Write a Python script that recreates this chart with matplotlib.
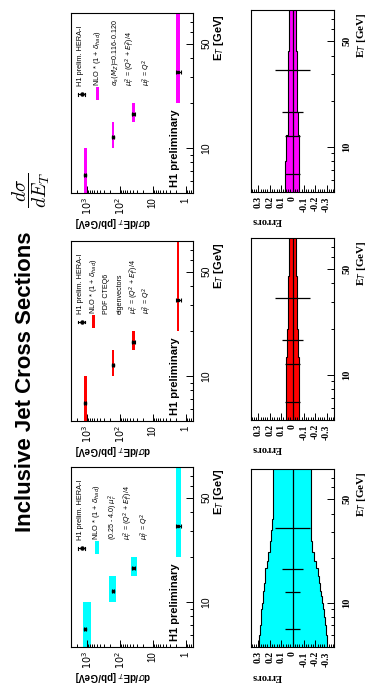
import numpy as np
import matplotlib
matplotlib.use("Agg")
import matplotlib.pyplot as plt
from matplotlib.lines import Line2D
from matplotlib.patches import Rectangle
from matplotlib.ticker import FixedLocator, NullFormatter

plt.rcParams['font.family'] = ['Liberation Sans', 'DejaVu Sans']

# measured points (same data in all three columns)
et_lo = [5, 10, 15, 20]
et_hi = [10, 15, 20, 80]
et_pt = [6.6, 11.8, 16.8, 32.0]
xsec = [1130, 163, 39, 1.68]
rel_err = [0.064, 0.067, 0.09, 0.155]

# NLO bands in the cross section panels: cyan = scale, red = pdf, magenta = alpha_s
nlo_lo = {'scale': [760, 130, 30, 1.39],
          'pdf': [961, 149, 35.3, 1.57],
          'as': [961, 150, 35, 1.49]}
nlo_hi = {'scale': [1320, 211, 45.6, 2.01],
          'pdf': [1186, 172, 41.7, 1.88],
          'as': [1186, 172, 42, 1.97]}

# theory uncertainties shown in the "Errors" panels
scale_edges = [5, 5.5, 6, 6.5, 7, 8, 9, 10, 11, 12, 13.5, 15, 17, 19, 22, 26, 31, 37, 45, 80]
scale_up = [0.298, 0.294, 0.29, 0.286, 0.28, 0.274, 0.268, 0.263, 0.259, 0.253,
            0.246, 0.238, 0.228, 0.215, 0.2, 0.19, 0.18, 0.174, 0.171]
scale_dn = [-0.304, -0.3, -0.296, -0.291, -0.285, -0.278, -0.27, -0.262, -0.255, -0.246,
            -0.236, -0.224, -0.21, -0.193, -0.175, -0.165, -0.16, -0.159, -0.159]
pdf_edges = [5, 13, 20, 45, 80]
pdf_up = [0.055, 0.048, 0.038, 0.029]
pdf_dn = [-0.055, -0.048, -0.043, -0.035]
as_edges = [5, 8, 12, 17, 43, 80]
as_up = [0.064, 0.055, 0.043, 0.038, 0.032]
as_dn = [-0.061, -0.055, -0.046, -0.043, -0.035]

legend_common = ['H1 prelim. HERA-I', r'NLO * (1 + $\delta_{had}$)']
legend_scale = [r'(0.25 - 4.0) $\mu_r^2$', r'$\mu_r^2$ = ($Q^2$ + $E_T^2$)/4', r'$\mu_f^2$ = $Q^2$']
legend_pdf = ['PDF CTEQ6', 'eigenvectors', r'$\mu_r^2$ = ($Q^2$ + $E_T^2$)/4', r'$\mu_f^2$ = $Q^2$']
legend_as = [r'$\alpha_s(M_Z)$=0.116-0.120', r'$\mu_r^2$ = ($Q^2$ + $E_T^2$)/4', r'$\mu_f^2$ = $Q^2$']

W, H = 374, 692
fig = plt.figure(figsize=(W / 100, H / 100), dpi=100)


def fx(x):
    return x / W


def fy(y):
    return 1 - y / H


def make_axes(x0, y0, x1, y1):
    return fig.add_axes([x0 / W, 1 - y1 / H, (x1 - x0) / W, (y1 - y0) / H])


def et_axis(ax):
    ax.set_yscale('log')
    ax.set_ylim(5, 80)
    ax.yaxis.set_ticks_position('right')
    ax.yaxis.set_major_locator(FixedLocator([10, 50]))
    ax.yaxis.set_minor_locator(FixedLocator([6, 7, 8, 9, 20, 30, 40, 60, 70, 80]))
    ax.yaxis.set_minor_formatter(NullFormatter())
    ax.set_yticklabels(['10', '50'])
    ax.tick_params(axis='y', which='major', direction='in', length=5, width=0.7,
                   labelrotation=90, labelsize=7.5, pad=6)
    ax.tick_params(axis='y', which='minor', direction='in', length=2.5, width=0.7)
    for lab in ax.get_yticklabels():
        lab.set_va('center')
    for s in ax.spines.values():
        s.set_linewidth(0.8)


def column(top, err, color, key, edges, up, dn, extra, extra_x, nlo_x):
    # cross section panel
    t0, t1 = top
    ax = make_axes(71, t0, 193, t1)
    ax.set_xscale('log')
    ax.set_xlim(3000, 0.6)
    et_axis(ax)
    ax.xaxis.set_ticks_position('bottom')
    ax.set_xticks([1000, 100, 10, 1], ['$10^3$', '$10^2$', '10', '1'])
    ax.xaxis.set_minor_locator(matplotlib.ticker.LogLocator(base=10, subs=np.arange(2, 10)))
    ax.xaxis.set_minor_formatter(NullFormatter())
    ax.tick_params(axis='x', which='major', direction='in', length=5, width=0.7,
                   labelrotation=90, labelsize=7, pad=3)
    ax.tick_params(axis='x', which='minor', direction='in', length=2.5, width=0.7)
    for i in range(len(et_lo)):
        ax.fill_betweenx([et_lo[i], et_hi[i]], nlo_lo[key][i], nlo_hi[key][i],
                         color=color, lw=0)
    xe = np.array(xsec) * np.array(rel_err)
    ax.errorbar(xsec, et_pt, xerr=xe, fmt='s', ms=1.8, color='black',
                elinewidth=0.8, capsize=1.2, capthick=0.8)
    ax.text(0.85, 0.035, 'H1 preliminary', transform=ax.transAxes, rotation=90,
            ha='center', va='bottom', fontsize=8, fontweight='bold')

    fig.text(fx(113), fy(t1 + 29), r'd$\sigma$/dE$_T$ [pb/GeV]', rotation=180,
             ha='center', va='center', fontsize=7, fontweight='bold')
    fig.text(fx(219), fy(t0 + 1), r'E$_T$ [GeV]', rotation=90,
             ha='center', va='top', fontsize=8, fontweight='bold')

    # legend
    ys = t1 - 107
    ym = t1 - 99
    fig.add_artist(Line2D([fx(78), fx(85)], [fy(ym), fy(ym)], color='black', lw=0.8))
    for xx in (78, 85):
        fig.add_artist(Line2D([fx(xx), fx(xx)], [fy(ym - 1.5), fy(ym + 1.5)], color='black', lw=0.8))
    fig.add_artist(Line2D([fx(81.5)], [fy(ym)], marker='o', ms=2.2, color='black'))
    fig.add_artist(Rectangle((fx(nlo_x - 1.8), fy(t1 - 93)), 3.6 / W, 13 / H,
                             transform=fig.transFigure, color=color, lw=0))
    fig.text(fx(81), fy(ys), legend_common[0], rotation=90, ha='center', va='bottom', fontsize=5.3)
    fig.text(fx(nlo_x), fy(ys), legend_common[1], rotation=90, ha='center', va='bottom', fontsize=5.3)
    for txt, xx in zip(extra, extra_x):
        fig.text(fx(xx), fy(ys), txt, rotation=90, ha='center', va='bottom', fontsize=5.1)

    # errors panel
    e0, e1 = err
    ax2 = make_axes(251, e0, 334, e1)
    ax2.set_xlim(0.365, -0.365)
    et_axis(ax2)
    ax2.xaxis.set_ticks_position('bottom')
    ax2.set_xticks([0.3, 0.2, 0.1, 0, -0.1, -0.2, -0.3],
                   ['0.3', '0.2', '0.1', '0', '-0.1', '-0.2', '-0.3'])
    ax2.xaxis.set_minor_locator(matplotlib.ticker.MultipleLocator(0.02))
    ax2.tick_params(axis='x', which='major', direction='in', length=5, width=0.7,
                    labelrotation=90, labelsize=7, pad=3)
    ax2.tick_params(axis='x', which='minor', direction='in', length=2.5, width=0.7)
    for lab in ax2.get_xticklabels() + ax2.get_yticklabels():
        lab.set_family('Liberation Serif')
        lab.set_weight('bold')
    ax2.stairs(up, edges, baseline=dn, fill=True, orientation='horizontal', color=color, lw=0)
    ax2.stairs(up, edges, baseline=None, orientation='horizontal', color='black', lw=0.8)
    ax2.stairs(dn, edges, baseline=None, orientation='horizontal', color='black', lw=0.8)
    ax2.axvline(0, color='black', lw=0.9)
    ax2.errorbar(np.zeros(len(et_pt)), et_pt, xerr=rel_err, fmt='none',
                 ecolor='black', elinewidth=0.9)
    fig.text(fx(267), fy(e1 + 29), 'Errors', rotation=180, ha='center', va='center',
             fontsize=7.5, fontweight='bold', family='Liberation Serif')
    fig.text(fx(361), fy(e0 + 2), r'E$_T$ [GeV]', rotation=90, ha='center', va='top',
             fontsize=8, fontweight='bold', family='Liberation Serif')


column((467, 647), (469, 647), '#00ffff', 'scale', scale_edges, scale_up, scale_dn,
       legend_scale, [113, 128, 145], 97)
column((241, 421), (238, 420), '#ff0000', 'pdf', pdf_edges, pdf_up, pdf_dn,
       legend_pdf, [106.7, 120, 134, 147.5], 93.5)
column((13, 193), (10, 192), '#ff00ff', 'as', as_edges, as_up, as_dn,
       legend_as, [115, 130, 147], 97.5)

fig.text(fx(26), fy(382), 'Inclusive Jet Cross Sections', rotation=90,
         ha='center', va='center', fontsize=16, fontweight='bold')
fig.text(fx(31), fy(190), r'$\dfrac{d\sigma}{dE_T}$', rotation=90,
         ha='center', va='center', fontsize=14, math_fontfamily='cm')

fig.savefig('out.png', dpi=100)
